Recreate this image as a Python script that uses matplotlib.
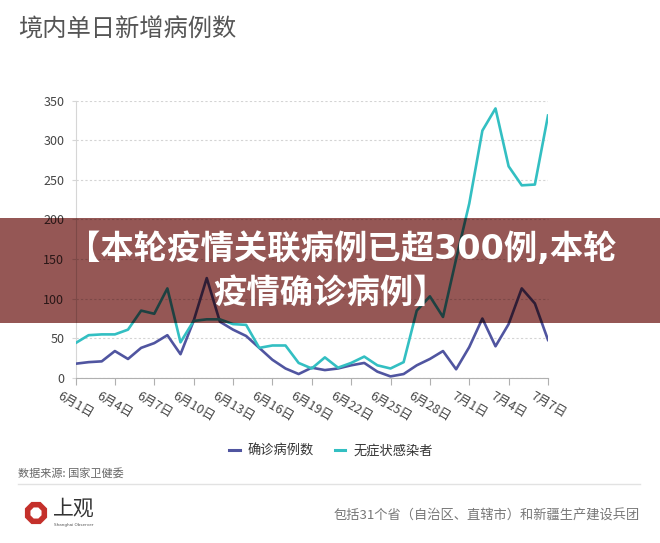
import matplotlib
matplotlib.use("Agg")
import matplotlib.pyplot as plt
import matplotlib.colors as mcolors
from matplotlib.patches import Rectangle, RegularPolygon
from matplotlib.lines import Line2D
from matplotlib.transforms import Bbox, TransformedBbox, IdentityTransform

plt.rcParams['font.family'] = ['Noto Sans CJK SC', 'DejaVu Sans']

# ---------------- data ----------------
dates = [f"6月{d}日" for d in range(1, 31)] + [f"7月{d}日" for d in range(1, 8)]
confirmed = [18, 20, 21, 34, 24, 38, 44, 54, 30, 72,
             126, 71, 61, 53, 38, 23, 12, 5, 13, 10,
             12, 16, 19, 8, 2, 5, 16, 24, 34, 11,
             39, 75, 40, 68, 113, 94, 48]
asymptomatic = [44, 54, 55, 55, 61, 85, 81, 113, 45, 72,
                74, 74, 68, 67, 38, 41, 41, 19, 12, 26,
                13, 19, 27, 16, 12, 20, 85, 103, 77, 150,
                220, 312, 340, 267, 243, 244, 331]
series_names = ["确诊病例数", "无症状感染者"]
yticks = [0, 50, 100, 150, 200, 250, 300, 350]
xtick_idx = list(range(0, len(dates), 3))

title = "境内单日新增病例数"
banner_lines = ["【本轮疫情关联病例已超300例,本轮", "疫情确诊病例】"]
source = "数据来源: 国家卫健委"
footer = "包括31个省（自治区、直辖市）和新疆生产建设兵团"

# ---------------- style ----------------
W, H = 660, 543
BLUE = '#5055a0'
TEAL = '#33bfc2'
BANNER = '#955755'
COVERED = [100, 150, 200]   # y tick labels lying under the banner

fig = plt.figure(figsize=(W / 100, H / 100), dpi=100)
fig.patch.set_facecolor('white')


def mult(c):
    a = mcolors.to_rgb(c)
    b = mcolors.to_rgb(BANNER)
    return tuple(x * y for x, y in zip(a, b))


def ident(c):
    return c


ax_rect = [75.5 / W, 1 - 378 / H, (548 - 75.5) / W, (378 - 100.5) / H]


def draw_chart(ax, cf):
    x = list(range(len(dates)))
    l1, = ax.plot(x, confirmed, color=cf(BLUE), lw=1.9, zorder=3)
    l2, = ax.plot(x, asymptomatic, color=cf(TEAL), lw=1.9, zorder=3)
    ax.set_xlim(0, len(dates) - 1)
    ax.set_ylim(0, 350)
    ax.set_yticks(yticks)
    ax.set_yticklabels([str(v) for v in yticks])
    ax.set_xticks(xtick_idx)
    ax.set_xticklabels([dates[i] for i in xtick_idx], rotation=-30,
                       ha='center', va='top', rotation_mode='default')
    ax.grid(axis='y', color=cf('#d4d4d4'), ls=(0, (2, 2)), lw=0.8)
    ax.set_axisbelow(True)
    for s in ['top', 'right']:
        ax.spines[s].set_visible(False)
    ax.spines['left'].set_color(cf('#d6d6d6'))
    ax.spines['bottom'].set_color(cf('#b0b0b0'))
    ax.tick_params(axis='y', length=3, color=cf('#d6d6d6'),
                   labelcolor=cf('#444444'), labelsize=9, pad=5)
    ax.tick_params(axis='x', length=5, color=cf('#b0b0b0'),
                   labelcolor=cf('#444444'), labelsize=9, pad=3)
    ax.patch.set_visible(False)
    return l1, l2


ax = fig.add_axes(ax_rect, zorder=1)
h1, h2 = draw_chart(ax, ident)

# banner (multiply-like overlay)
b_top, b_bot = 218, 323
by0 = 1 - b_bot / H
bh = (b_bot - b_top) / H
fig.add_artist(Rectangle((0, by0), 1, bh, transform=fig.transFigure,
                         facecolor=BANNER, edgecolor='none', zorder=2))

ax2 = fig.add_axes(ax_rect, zorder=3)
o1, o2 = draw_chart(ax2, mult)
clipbb = TransformedBbox(Bbox([[0, by0], [1, by0 + bh]]), fig.transFigure)
for ln in (o1, o2):
    ln.set_clip_box(clipbb)
for sp in ax2.spines.values():
    sp.set_clip_box(clipbb)
for t in ax2.xaxis.get_major_ticks():
    t.label1.set_visible(False)
    for a in (t.tick1line, t.gridline):
        a.set_clip_box(clipbb)
for v, t in zip(yticks, ax2.yaxis.get_major_ticks()):
    if v not in COVERED:
        t.label1.set_visible(False)
    for a in (t.tick1line, t.label1, t.gridline):
        a.set_clip_box(clipbb)
        a.set_clip_on(True)

fig.text(342 / W, 1 - 249 / H, banner_lines[0], color='white', fontsize=24,
         fontweight='bold', ha='center', va='center', zorder=5,
         family=['DejaVu Sans', 'Noto Sans CJK SC'])
fig.text(330 / W, 1 - 293 / H, banner_lines[1], color='white', fontsize=24,
         fontweight='bold', ha='center', va='center', zorder=5)

# title
fig.text(18 / W, 1 - 30 / H, title, fontsize=17.5, color='#555555',
         ha='left', va='center')

# legend
leg_handles = [Line2D([], [], color=BLUE, lw=2.2), Line2D([], [], color=TEAL, lw=2.2)]
fig.legend(leg_handles, series_names, loc='center',
           bbox_to_anchor=(331 / W, 1 - 451 / H), ncol=2, frameon=False,
           handlelength=0.8, handletextpad=0.6, columnspacing=1.6,
           fontsize=9.5, labelcolor='#333333')

# source
fig.text(18 / W, 1 - 473 / H, source, fontsize=8, color='#666666',
         ha='left', va='center')

# separator
fig.add_artist(Line2D([18 / W, 640 / W], [1 - 484 / H, 1 - 484 / H],
                      transform=fig.transFigure, color='#e2e2e2', lw=1))

# logo
fig.add_artist(RegularPolygon((36, H - 513), numVertices=8, radius=12,
                              orientation=3.14159 / 8, transform=IdentityTransform(),
                              facecolor='#c4302b', edgecolor='none'))
fig.add_artist(RegularPolygon((36, H - 513), numVertices=8, radius=6,
                              orientation=3.14159 / 8, transform=IdentityTransform(),
                              facecolor='white', edgecolor='none'))
fig.text(53 / W, 1 - 509 / H, "上观", fontsize=15, color='#333333',
         ha='left', va='center')
fig.text(54 / W, 1 - 525 / H, "Shanghai Observer", fontsize=3,
         color='#555555', ha='left', va='center', family=['DejaVu Sans'])

# footer
fig.text(640 / W, 1 - 516 / H, footer, fontsize=9.5, color='#777777',
         ha='right', va='center')

fig.savefig('out.png', dpi=100)
